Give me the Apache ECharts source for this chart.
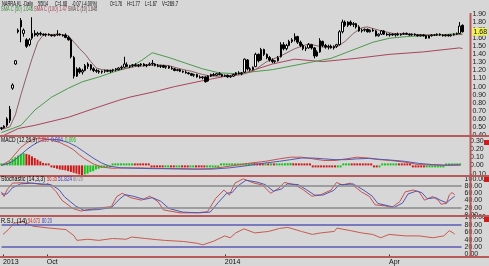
<!DOCTYPE html>
<html><head><meta charset="utf-8">
<script src="https://cdn.jsdelivr.net/npm/echarts@6/dist/echarts.min.js"></script>
<style>html,body{margin:0;padding:0;background:#d7d7d7;}#c{width:489px;height:266px;}</style>
</head><body><div id="c"></div>
<script>
// ---- data ----
// daily bars: [open, high, low, close]
const ohlc = [
[0.48,0.50,0.46,0.49],[0.49,0.52,0.48,0.51],[0.52,0.62,0.50,0.60],[0.58,0.76,0.55,0.72],[0.98,1.04,0.96,1.02],
[1.28,1.33,1.27,1.32],[1.70,1.72,1.66,1.68],[1.82,1.85,1.55,1.74],[1.66,1.72,1.62,1.70],[1.58,1.60,1.48,1.50],
[1.52,1.60,1.50,1.58],[1.60,1.86,1.58,1.66],[1.66,1.70,1.62,1.64],[1.64,1.68,1.62,1.66],[1.66,1.68,1.63,1.65],
[1.65,1.66,1.63,1.64],[1.64,1.66,1.62,1.65],[1.65,1.66,1.63,1.64],[1.64,1.65,1.62,1.63],[1.63,1.65,1.62,1.64],
[1.64,1.70,1.63,1.65],[1.65,1.66,1.63,1.64],[1.64,1.65,1.62,1.63],[1.64,1.66,1.60,1.61],[1.61,1.63,1.57,1.58],
[1.58,1.60,1.35,1.37],[1.36,1.38,1.10,1.13],[1.13,1.24,1.12,1.22],[1.22,1.24,1.16,1.18],[1.18,1.22,1.15,1.20],
[1.20,1.28,1.19,1.26],[1.25,1.30,1.22,1.28],[1.27,1.28,1.20,1.22],[1.22,1.24,1.18,1.20],[1.20,1.22,1.17,1.19],
[1.19,1.21,1.16,1.18],[1.18,1.20,1.16,1.19],[1.19,1.21,1.17,1.20],[1.20,1.21,1.18,1.19],[1.19,1.21,1.17,1.20],
[1.20,1.22,1.18,1.21],[1.21,1.23,1.19,1.22],[1.21,1.24,1.20,1.23],[1.23,1.26,1.21,1.24],[1.24,1.37,1.23,1.28],
[1.27,1.30,1.24,1.25],[1.25,1.27,1.23,1.26],[1.26,1.28,1.24,1.27],[1.27,1.29,1.25,1.26],[1.26,1.28,1.24,1.27],
[1.27,1.29,1.25,1.28],[1.28,1.29,1.25,1.26],[1.26,1.28,1.24,1.27],[1.27,1.30,1.26,1.28],[1.28,1.33,1.26,1.29],
[1.28,1.29,1.25,1.26],[1.26,1.28,1.24,1.25],[1.25,1.27,1.23,1.26],[1.26,1.27,1.23,1.24],[1.24,1.26,1.22,1.25],
[1.25,1.26,1.22,1.23],[1.23,1.25,1.21,1.22],[1.22,1.23,1.19,1.20],[1.20,1.22,1.19,1.21],[1.21,1.22,1.18,1.19],
[1.19,1.20,1.17,1.18],[1.18,1.20,1.16,1.17],[1.17,1.18,1.15,1.16],[1.16,1.17,1.13,1.14],[1.14,1.16,1.12,1.15],
[1.15,1.16,1.11,1.12],[1.12,1.14,1.10,1.11],[1.11,1.13,1.09,1.12],[1.12,1.13,1.05,1.06],[1.07,1.14,1.06,1.13],
[1.13,1.16,1.12,1.15],[1.15,1.17,1.13,1.14],[1.14,1.17,1.13,1.16],[1.16,1.18,1.14,1.15],[1.15,1.16,1.12,1.13],
[1.13,1.15,1.12,1.14],[1.14,1.15,1.11,1.12],[1.12,1.14,1.11,1.13],[1.13,1.16,1.12,1.15],[1.15,1.18,1.14,1.17],
[1.17,1.19,1.15,1.16],[1.16,1.18,1.14,1.17],[1.18,1.35,1.17,1.34],[1.33,1.34,1.20,1.22],[1.22,1.24,1.19,1.21],
[1.21,1.25,1.20,1.24],[1.25,1.42,1.24,1.40],[1.40,1.41,1.30,1.32],[1.33,1.48,1.32,1.46],[1.46,1.47,1.38,1.40],
[1.40,1.41,1.34,1.36],[1.36,1.38,1.31,1.33],[1.33,1.35,1.29,1.31],[1.31,1.33,1.29,1.32],[1.32,1.38,1.31,1.36],
[1.37,1.55,1.36,1.52],[1.52,1.55,1.45,1.47],[1.47,1.53,1.45,1.51],[1.51,1.58,1.50,1.56],[1.56,1.60,1.54,1.58],
[1.58,1.66,1.56,1.62],[1.62,1.63,1.53,1.55],[1.55,1.57,1.49,1.51],[1.51,1.53,1.45,1.47],[1.47,1.50,1.44,1.48],
[1.48,1.54,1.47,1.52],[1.52,1.53,1.46,1.48],[1.48,1.49,1.35,1.38],[1.38,1.45,1.37,1.43],[1.43,1.60,1.42,1.57],
[1.56,1.57,1.49,1.51],[1.51,1.53,1.47,1.49],[1.49,1.52,1.46,1.50],[1.50,1.52,1.47,1.48],[1.48,1.51,1.46,1.50],
[1.50,1.53,1.48,1.52],[1.52,1.70,1.51,1.68],[1.68,1.83,1.66,1.80],[1.80,1.82,1.74,1.76],[1.76,1.81,1.74,1.80],
[1.80,1.82,1.75,1.77],[1.77,1.80,1.74,1.78],[1.78,1.79,1.72,1.74],[1.74,1.76,1.68,1.69],[1.69,1.72,1.67,1.70],
[1.70,1.72,1.68,1.71],[1.71,1.72,1.67,1.68],[1.68,1.71,1.67,1.70],[1.70,1.72,1.68,1.69],[1.69,1.70,1.62,1.63],
[1.63,1.66,1.62,1.65],[1.65,1.70,1.64,1.69],[1.69,1.70,1.64,1.65],[1.65,1.67,1.63,1.64],[1.64,1.66,1.62,1.65],
[1.65,1.66,1.63,1.64],[1.64,1.66,1.62,1.65],[1.65,1.67,1.63,1.64],[1.64,1.66,1.63,1.65],[1.65,1.67,1.64,1.66],
[1.66,1.67,1.64,1.65],[1.65,1.66,1.63,1.64],[1.64,1.66,1.63,1.65],[1.65,1.66,1.63,1.64],[1.64,1.65,1.62,1.63],
[1.63,1.65,1.62,1.64],[1.64,1.65,1.62,1.63],[1.63,1.64,1.59,1.60],[1.60,1.64,1.60,1.63],[1.63,1.65,1.62,1.64],
[1.64,1.65,1.63,1.64],[1.64,1.66,1.63,1.65],[1.65,1.66,1.63,1.64],[1.64,1.65,1.62,1.63],[1.63,1.65,1.62,1.64],
[1.64,1.65,1.62,1.63],[1.63,1.65,1.62,1.64],[1.64,1.66,1.63,1.65],[1.65,1.67,1.64,1.66],[1.66,1.80,1.65,1.75],
[1.76,1.77,1.67,1.68]
];
// moving averages, sampled as [barIndex, value]
const sma10 = [[0,0.47],[3,0.50],[5,0.65],[7,0.90],[9,1.13],[11,1.35],[13,1.55],[15,1.64],[20,1.65],[24,1.63],[26,1.55],[28,1.47],[30,1.40],[32,1.31],[34,1.23],[36,1.21],[40,1.20],[44,1.22],[48,1.25],[52,1.26],[56,1.27],[60,1.26],[64,1.22],[68,1.19],[72,1.15],[75,1.13],[78,1.13],[82,1.13],[86,1.15],[90,1.19],[95,1.31],[100,1.38],[105,1.47],[110,1.53],[115,1.49],[120,1.49],[123,1.56],[126,1.66],[129,1.73],[131,1.74],[135,1.70],[140,1.66],[145,1.65],[150,1.645],[155,1.64],[160,1.64],[165,1.646]];
const sma50 = [[0,0.43],[7,0.52],[12,0.71],[18,0.87],[24,0.98],[29,1.06],[35,1.12],[40,1.18],[46,1.24],[50,1.32],[54,1.42],[60,1.36],[66,1.29],[72,1.22],[78,1.17],[84,1.16],[89,1.18],[97,1.21],[109,1.29],[118,1.35],[124,1.43],[133,1.55],[139,1.60],[145,1.62],[157,1.64],[164,1.66],[165,1.648]];
const sma100 = [[0,0.38],[6,0.48],[12,0.52],[24,0.62],[35,0.75],[42,0.83],[46,0.87],[54,0.93],[62,1.00],[73,1.08],[88,1.18],[97,1.28],[105,1.34],[115,1.31],[127,1.35],[139,1.40],[151,1.43],[164,1.48],[165,1.47]];
// MACD
const macdLine = [[0,0.00],[3,0.06],[5,0.14],[7,0.22],[9,0.27],[11,0.31],[13,0.33],[15,0.33],[18,0.31],[21,0.28],[24,0.23],[26,0.19],[28,0.13],[30,0.08],[33,0.02],[36,-0.02],[40,-0.035],[45,-0.03],[50,-0.03],[55,-0.035],[60,-0.04],[65,-0.045],[70,-0.045],[75,-0.04],[80,-0.02],[85,0.005],[90,0.03],[95,0.05],[100,0.08],[104,0.10],[108,0.10],[112,0.08],[116,0.06],[120,0.06],[124,0.08],[128,0.10],[132,0.09],[136,0.07],[140,0.06],[145,0.04],[150,0.01],[155,0.005],[160,0.0],[165,0.010]];
const macdSignal = [[0,0.00],[3,0.03],[5,0.07],[7,0.13],[9,0.19],[11,0.24],[13,0.28],[15,0.31],[18,0.32],[21,0.31],[24,0.28],[27,0.23],[30,0.16],[33,0.09],[36,0.03],[39,-0.01],[43,-0.03],[48,-0.035],[55,-0.04],[65,-0.04],[70,-0.045],[76,-0.045],[82,-0.03],[88,-0.005],[94,0.025],[100,0.05],[104,0.07],[108,0.09],[112,0.09],[116,0.08],[120,0.07],[124,0.07],[128,0.08],[132,0.085],[136,0.075],[140,0.065],[145,0.05],[150,0.025],[155,0.01],[160,0.003],[165,0.004]];
const macdHist = [
0.00,0.01,0.03,0.05,0.08,0.10,0.12,0.14,0.15,0.14,0.13,0.11,0.09,0.07,0.05,0.03,0.02,0.00,-0.02,-0.03,
-0.04,-0.05,-0.055,-0.06,-0.07,-0.08,-0.09,-0.10,-0.11,-0.12,-0.11,-0.10,-0.08,-0.07,-0.05,-0.04,-0.03,-0.02,-0.01,-0.005,
0.004,0.008,0.012,0.015,0.018,0.02,0.022,0.024,
0.02,0.016,0.012,0.008,0.004,0.0,-0.004,-0.008,-0.01,-0.012,-0.014,
-0.012,-0.01,-0.012,-0.014,-0.012,-0.01,-0.012,-0.014,-0.016,-0.014,-0.012,-0.014,-0.016,-0.018,-0.02,-0.018,-0.014,-0.01,-0.006,
-0.002,0.002,0.006,0.008,0.01,0.012,0.014,0.016,0.018,0.025,0.028,0.03,0.032,
0.028,0.024,0.02,0.016,
0.018,0.014,0.016,0.012,
0.016,0.02,0.024,0.026,0.028,0.03,
0.026,0.022,0.018,0.014,0.01,0.006,0.002,-0.002,-0.006,-0.008,-0.01,-0.012,-0.014,-0.015,-0.016,-0.017,
-0.01,-0.002,0.006,0.012,0.016,
0.014,0.012,0.01,0.008,0.006,0.004,0.002,0.0,-0.002,-0.004,
-0.002,0.0,0.002,0.004,0.006,0.008,0.01,
0.008,0.006,0.004,0.002,0.0,-0.002,-0.004,-0.006,-0.008,-0.01,
-0.008,-0.006,-0.005,-0.004,-0.003,-0.002,-0.001,0.0,0.001,0.002,0.003,0.004,0.006
];
// Stochastic
const stochK = [[0,64],[1,51],[2,69],[4,88],[7,89],[11,88],[16,83],[17,87],[20,64],[22,41],[26,18],[29,11],[35,19],[40,23],[42,51],[44,60],[47,48],[51,41],[54,52],[57,37],[59,14],[65,6],[71,6],[75,9],[78,46],[81,69],[83,55],[85,88],[88,100],[92,88],[95,83],[98,60],[101,74],[103,90],[107,83],[110,69],[113,52],[116,55],[120,69],[122,90],[124,83],[127,88],[131,64],[134,51],[136,28],[140,25],[142,20],[145,37],[147,64],[150,69],[152,64],[154,41],[157,51],[159,41],[160,30],[162,32],[163,55],[164,62],[165,56.35]];
const stochD = [[0,58],[2,58],[4,75],[7,86],[11,88],[16,85],[18,84],[21,70],[23,50],[27,25],[30,13],[35,15],[40,20],[43,44],[45,56],[48,52],[52,43],[55,48],[58,38],[61,18],[66,8],[72,6],[76,8],[79,35],[82,60],[84,62],[86,80],[89,96],[93,91],[96,84],[99,66],[102,72],[104,86],[108,84],[111,70],[114,55],[117,55],[121,68],[123,84],[125,84],[128,86],[132,68],[135,52],[137,32],[141,25],[143,21],[146,33],[148,58],[151,66],[153,62],[155,45],[158,48],[160,40],[162,34],[164,46],[165,51.824]];
// RSI
const rsi = [[0,54],[2,67],[4,84],[7,89],[11,76],[17,71],[23,67],[26,50],[27,38],[31,41],[35,38],[40,43],[45,41],[47,47],[52,43],[56,40],[59,38],[66,35],[71,30],[73,26],[77,36],[81,50],[83,45],[85,58],[88,69],[92,58],[97,62],[101,70],[104,73],[109,62],[113,54],[116,58],[121,62],[122,71],[127,64],[131,58],[135,54],[138,45],[141,54],[147,50],[152,50],[157,45],[161,50],[163,64],[164,60],[165,54.673]];
// x axis
const nCats = 168;
const categories = Array.from({length: nCats}, (_, i) => String(i));
const xTickLabels = {0: '2013', 16: 'Oct', 81: '2014', 141: 'Apr'};
const lastClose = 1.68;

// ---- chart ----
const FONT = '"Liberation Sans", Arial, sans-serif';
const chart = echarts.init(document.getElementById('c'), null, {renderer: 'canvas'});
const W = 470;
const grids = [
  {left: 0, top: 14, width: W, height: 121},
  {left: 0, top: 132.6, width: W, height: 49.2},
  {left: 0, top: 178.8, width: W, height: 36.2},
  {left: 0, top: 217.3, width: W, height: 38.4}
];
const xAxes = grids.map((g, i) => ({
  type: 'category', gridIndex: i, data: categories, boundaryGap: true,
  axisLine: {show: false}, axisTick: {show: false}, axisLabel: {show: false}, splitLine: {show: false}
}));
const isTick = (i) => xTickLabels[i] !== undefined;
Object.assign(xAxes[3], {
  offset: 1.5,
  axisTick: {show: true, alignWithLabel: true, length: 3, interval: isTick, lineStyle: {color: '#333'}},
  axisLabel: {show: true, interval: isTick, formatter: (v, i) => xTickLabels[i] || '', fontSize: 7,
    color: '#111', margin: 3, align: 'left', fontFamily: FONT}
});
function yAx(gi, min, max, interval, fmt) {
  return {type: 'value', gridIndex: gi, position: 'right', min, max, interval,
    axisLine: {show: false}, axisTick: {show: false}, splitLine: {show: false},
    axisLabel: {show: true, fontSize: 7, color: '#1a1a1a', margin: 3, fontFamily: FONT, formatter: fmt}};
}
const fix2 = v => v.toFixed(2);
const yAxes = [
  yAx(0, 0.4, 1.9, 0.1, fix2),
  yAx(1, -0.2, 0.4, 0.1, v => (v < -0.15 || v > 0.35) ? '' : v.toFixed(2)),
  yAx(2, 0, 100, 20, fix2),
  yAx(3, 0, 100, 20, fix2)
];
function line(data, color, xi, extra) {
  return Object.assign({type: 'line', data, xAxisIndex: xi, yAxisIndex: xi, symbol: 'none', connectNulls: true,
    lineStyle: {color, width: 1}, silent: true, z: 2}, extra || {});
}
const candle = ohlc.map(r => [r[0], r[3], r[2], r[1]]);
const histData = macdHist.map((v, i) => ({
  value: v,
  itemStyle: {color: (i === 0 || v >= macdHist[i - 1]) ? '#19c219' : '#d01818'}
}));
const refLine = (vals, color) => ({
  symbol: 'none', silent: true, label: {show: false},
  lineStyle: {color, width: 1.6, type: 'solid'},
  data: vals.map(v => ({yAxis: v}))
});
chart.setOption({
  animation: false,
  backgroundColor: '#d7d7d7',
  grid: grids,
  xAxis: xAxes,
  yAxis: yAxes,
  series: [
    line(sma100, '#a8445c', 0),
    line(sma50, '#4c9a4c', 0),
    line(sma10, '#8c6262', 0),
    {type: 'candlestick', data: candle, xAxisIndex: 0, yAxisIndex: 0, barWidth: 2, z: 3, silent: true,
      itemStyle: {color: '#ffffff', color0: '#000000', borderColor: '#000000', borderColor0: '#000000', borderWidth: 1}},
    {type: 'bar', data: histData, xAxisIndex: 1, yAxisIndex: 1, barWidth: 2, barMinHeight: 2, silent: true},
    line(macdLine, '#c85050', 1),
    line(macdSignal, '#5058b0', 1),
    line(stochK, '#c85050', 2, {markLine: refLine([80, 20], '#8a8a8a')}),
    line(stochD, '#5058b0', 2),
    line(rsi, '#c85a50', 3, {markLine: refLine([80, 20], '#5a5ab4')})
  ]
});

// ---- decorations / legends ----
const SEP = '#b85a5a';
const yHi = chart.convertToPixel({yAxisIndex: 0}, lastClose);
const TFONT = '6.5px ' + FONT;
const mctx = document.createElement('canvas').getContext('2d');
mctx.font = TFONT;
// text squeezed horizontally to the width it takes in the reference
function txt(x, y, text, fill, w) {
  const natural = mctx.measureText(text).width || 1;
  return {type: 'text', x, y, scaleX: w / natural, silent: true, z: 10,
    style: {text, fill, font: TFONT, verticalAlign: 'middle', align: 'left'}};
}
const g = [];
[136, 176, 216, 257].forEach(y => g.push({type: 'line', silent: true, z: 5,
  shape: {x1: 0, y1: y, x2: 489, y2: y}, style: {stroke: SEP, lineWidth: 2}}));
g.push({type: 'line', silent: true, z: 5, shape: {x1: 470.5, y1: 13, x2: 470.5, y2: 257}, style: {stroke: SEP, lineWidth: 2}});
[140, 177, 217].forEach(y => g.push({type: 'rect', silent: true, z: 6,
  shape: {x: 484, y, width: 5, height: 5}, style: {fill: '#cc1c1c'}}));
g.push({type: 'rect', silent: true, z: 6, shape: {x: 472, y: yHi - 4, width: 15, height: 8}, style: {fill: '#f2f25a'}});
g.push({type: 'text', x: 473.5, y: yHi, silent: true, z: 7,
  style: {text: lastClose.toFixed(2), fill: '#111', font: '7px ' + FONT, verticalAlign: 'middle'}});
// title line
[[2,'NARRA.KL -Daily',31],[38,'5/5/14',10],[55,'C=1.68',12],[72,'-0.07 (-4.00%)',25],[110,'O=1.76',12],[127,'H=1.77',13],[145,'L=1.67',12],[162,'V=269.7',16]]
  .forEach(([x, t, w]) => g.push(txt(x, 3.8, t, '#000', w)));
g.push(txt(1, 9.6, 'SMA C (50) 1.648', '#3a8a3a', 32));
g.push(txt(34, 9.6, 'SMA C (100) 1.47', '#a83c50', 33));
g.push(txt(68, 9.6, 'SMA C (10) 1.646', '#5a3a3a', 29));
g.push(txt(1, 139.8, 'MACD (12,26,9)', '#000', 36));
g.push(txt(38, 139.8, '0.010', '#c83030', 11));
g.push(txt(51, 139.8, '0.004', '#3a3ab4', 12));
g.push(txt(65, 139.8, '0.006', '#18b018', 11));
g.push(txt(1, 179.6, 'Stochastic (14,3,3)', '#000', 44));
g.push(txt(47, 179.6, '56.35', '#c83030', 10));
g.push(txt(58, 179.6, '51.824', '#3a3ab4', 14));
g.push(txt(73, 179.6, '80 20', '#808080', 10));
g.push(txt(1, 221, 'R.S.I. (14)', '#000', 26));
g.push(txt(28, 221, '54.673', '#c83030', 12));
g.push(txt(42, 221, '80 20', '#3a3ab4', 10));
chart.setOption({graphic: g});
</script>
</body></html>
